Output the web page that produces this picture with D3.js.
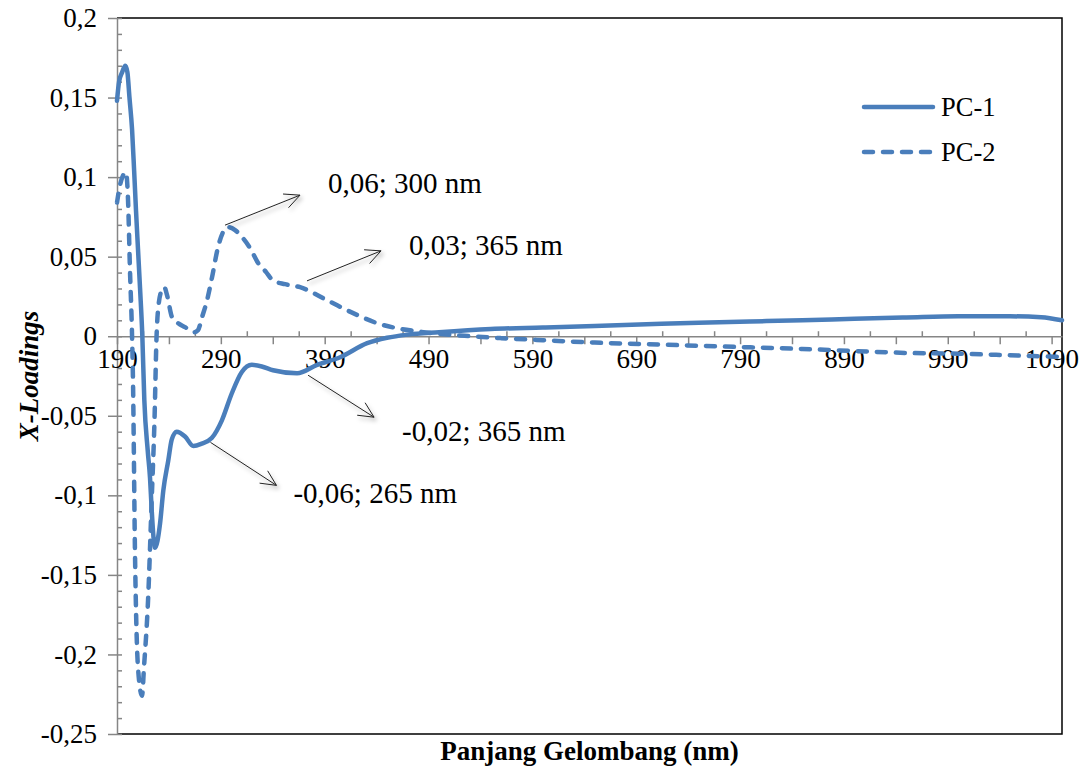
<!DOCTYPE html>
<html>
<head>
<meta charset="utf-8">
<script src="https://cdn.jsdelivr.net/npm/d3@7/dist/d3.min.js"></script>
<style>
  body { margin: 0; background: #fff; }
  svg text { font-family: "Liberation Serif", "Times New Roman", serif; fill: #000; }
</style>
</head>
<body>
<div id="chart"></div>
<script>
// PC-1 (solid) loadings
const pc1Wavelength = [190, 192, 195, 198, 200, 202, 204.5, 206.5, 208.3, 210.2, 212.2, 214.4, 216.3, 219.6, 221.8, 223.4, 226.6, 231.4, 234.6, 239.4, 242.7, 247.5, 255.5, 263.5, 271.6, 281.2, 290.9, 300.5, 310.2, 319.8, 329.4, 340.3, 363.4, 382.7, 404.9, 430.9, 450, 470, 500, 550, 600, 650, 700, 750, 800, 850, 900, 950, 1000, 1050, 1080, 1100];
const pc1Loading = [0.148, 0.160, 0.166, 0.170, 0.166, 0.150, 0.130, 0.104, 0.079, 0.055, 0.030, 0, -0.040, -0.072, -0.089, -0.109, -0.133, -0.118, -0.097, -0.078, -0.065, -0.060, -0.063, -0.069, -0.0675, -0.064, -0.053, -0.036, -0.0225, -0.018, -0.019, -0.0214, -0.0233, -0.018, -0.0132, -0.0044, -0.001, 0.001, 0.0025, 0.0045, 0.0055, 0.0065, 0.0075, 0.0085, 0.0093, 0.010, 0.011, 0.0118, 0.0125, 0.0125, 0.012, 0.010];

// PC-2 (dashed) loadings
const pc2Wavelength = [190, 192.9, 195.8, 198.7, 200.6, 202.5, 204.5, 205.4, 207.3, 210.2, 214.1, 216, 219.9, 223.4, 226.1, 228.1, 229.5, 233.1, 235.6, 238.2, 243, 248.8, 255.5, 264.2, 268, 271.9, 276.7, 281.5, 287.3, 292.1, 297, 303.7, 310.4, 318.2, 325.9, 333.6, 340.3, 351.9, 366.3, 392.4, 417.4, 440.5, 459.8, 480, 500, 530, 560, 600, 650, 700, 750, 800, 850, 900, 950, 1000, 1050, 1100];
const pc2Loading = [0.084, 0.095, 0.101, 0.103, 0.086, 0.0415, 0, -0.028, -0.135, -0.208, -0.226, -0.208, -0.166, -0.103, -0.053, 0, 0.0164, 0.029, 0.0308, 0.0258, 0.012, 0.0082, 0.0057, 0.0025, 0.0038, 0.012, 0.0226, 0.037, 0.056, 0.0654, 0.0686, 0.0667, 0.0623, 0.0553, 0.046, 0.0403, 0.035, 0.0327, 0.0308, 0.0226, 0.0145, 0.0082, 0.005, 0.003, 0.0015, 0, -0.0012, -0.0025, -0.004, -0.005, -0.006, -0.007, -0.008, -0.0093, -0.0105, -0.011, -0.012, -0.013];

const seriesNames = ["PC-1", "PC-2"];

const yTickValues = [0.2, 0.15, 0.1, 0.05, 0, -0.05, -0.1, -0.15, -0.2, -0.25];
const yTickLabels = ["0,2", "0,15", "0,1", "0,05", "0", "-0,05", "-0,1", "-0,15", "-0,2", "-0,25"];
const xTickValues = [190, 290, 390, 490, 590, 690, 790, 890, 990, 1090];
const xTickLabels = ["190", "290", "390", "490", "590", "690", "790", "890", "990", "1090"];

const noteLabels = ["0,06; 300 nm", "0,03; 365 nm", "-0,02; 365 nm", "-0,06; 265 nm"];
const noteWavelength = [294, 373, 374, 280];
const noteLoading = [0.0698, 0.0348, -0.0245, -0.0667];

const xTitle = "Panjang Gelombang (nm)";
const yTitle = "X-Loadings";

// ---- layout ----
const W = 1086, H = 769;
const margin = {top: 18, right: 24, bottom: 35, left: 117};
const width = W - margin.left - margin.right;
const height = H - margin.top - margin.bottom;
const blue = "#4a7ebb";
const axisGray = "#868686";
const serif = "Liberation Serif, Times New Roman, serif";

// arrow / label offsets (px) relative to the anchor point on the curve
const noteLayout = [
  {tip: [75, -30], text: [103, -32]},
  {tip: [74, -30], text: [102, -26]},
  {tip: [66, 42], text: [94, 66]},
  {tip: [66, 43], text: [83, 61]}
];

const x = d3.scaleLinear().domain([190, 1100]).range([0, width]);
const y = d3.scaleLinear().domain([-0.25, 0.2]).range([height, 0]);

const svg = d3.select("#chart").append("svg")
  .attr("width", W)
  .attr("height", H);

const defs = svg.append("defs");
const shadow = defs.append("filter").attr("id", "shadow")
  .attr("x", "-20%").attr("y", "-20%").attr("width", "140%").attr("height", "160%");
shadow.append("feDropShadow")
  .attr("dx", 2).attr("dy", 3).attr("stdDeviation", 2)
  .attr("flood-color", "#000").attr("flood-opacity", 0.35);

const g = svg.append("g")
  .attr("transform", "translate(" + margin.left + "," + margin.top + ")");

// plot border (top, right, bottom)
g.append("path")
  .attr("d", "M0,0H" + width + "V" + height + "H0")
  .attr("fill", "none")
  .attr("stroke", "#000")
  .attr("stroke-width", 1.5);

// y axis: major ticks outside, minor inside
const yMinor = d3.range(-25, 21).map(d => d / 100);
g.append("g")
  .attr("class", "y-minor")
  .call(d3.axisRight(y).tickValues(yMinor).tickSize(5).tickFormat(""))
  .call(a => a.select(".domain").remove());

g.append("g")
  .attr("class", "y-axis")
  .call(d3.axisLeft(y).tickValues(yTickValues).tickSize(9).tickSizeOuter(0)
    .tickFormat((d, i) => yTickLabels[i]))
  .call(a => a.selectAll("text").attr("x", -20).style("font-size", "27px").style("font-family", serif));

// x axis on the zero line
const xMinor = d3.range(215, 1100, 50);
const xMid = d3.range(240, 1100, 50).filter(v => (v - 190) % 100 !== 0);
g.append("g")
  .attr("class", "x-minor")
  .attr("transform", "translate(0," + y(0) + ")")
  .call(d3.axisTop(x).tickValues(xMinor).tickSize(5).tickFormat(""))
  .call(a => a.select(".domain").remove());

g.append("g")
  .attr("class", "x-mid")
  .attr("transform", "translate(0," + y(0) + ")")
  .call(d3.axisBottom(x).tickValues(xMid).tickSize(8).tickFormat(""))
  .call(a => a.select(".domain").remove());

g.append("g")
  .attr("class", "x-axis")
  .attr("transform", "translate(0," + y(0) + ")")
  .call(d3.axisBottom(x).tickValues(xTickValues).tickSize(8).tickSizeOuter(0)
    .tickFormat((d, i) => xTickLabels[i]))
  .call(a => a.selectAll("text").attr("y", 13).style("font-size", "27px").style("font-family", serif));

g.selectAll(".domain, .tick line").attr("stroke", axisGray).attr("stroke-width", 1.5);

// lines
const line = d3.line()
  .x(d => x(d[0]))
  .y(d => y(d[1]))
  .curve(d3.curveMonotoneX);

const pc1 = pc1Wavelength.map((w, i) => [w, pc1Loading[i]]);
const pc2 = pc2Wavelength.map((w, i) => [w, pc2Loading[i]]);

g.append("path")
  .datum(pc2)
  .attr("fill", "none")
  .attr("stroke", blue)
  .attr("stroke-width", 4.5)
  .attr("stroke-linecap", "round")
  .attr("stroke-dasharray", "9,10")
  .attr("d", line);

g.append("path")
  .datum(pc1)
  .attr("fill", "none")
  .attr("stroke", blue)
  .attr("stroke-width", 4.5)
  .attr("stroke-linecap", "round")
  .attr("stroke-linejoin", "round")
  .attr("d", line);

// annotations
noteLabels.forEach((label, i) => {
  const ax = x(noteWavelength[i]), ay = y(noteLoading[i]);
  const lay = noteLayout[i];
  const tx = ax + lay.tip[0], ty = ay + lay.tip[1];
  const ang = Math.atan2(ty - ay, tx - ax);
  const len = 17, spread = Math.PI / 7;
  const h1 = [tx - len * Math.cos(ang - spread), ty - len * Math.sin(ang - spread)];
  const h2 = [tx - len * Math.cos(ang + spread), ty - len * Math.sin(ang + spread)];
  g.append("path")
    .attr("d", "M" + ax + "," + ay + "L" + tx + "," + ty +
      "M" + h1[0] + "," + h1[1] + "L" + tx + "," + ty + "L" + h2[0] + "," + h2[1])
    .attr("fill", "none")
    .attr("stroke", "#222")
    .attr("stroke-width", 1)
    .attr("filter", "url(#shadow)");
  g.append("text")
    .attr("x", ax + lay.text[0])
    .attr("y", ay + lay.text[1])
    .style("font-size", "29px")
    .text(label);
});

// legend
const legend = svg.append("g").attr("transform", "translate(864,107)");
seriesNames.forEach((name, i) => {
  const row = legend.append("g").attr("transform", "translate(0," + (i * 45) + ")");
  row.append("line")
    .attr("x1", 0).attr("x2", 69)
    .attr("stroke", blue)
    .attr("stroke-width", 4.5)
    .attr("stroke-linecap", "round")
    .attr("stroke-dasharray", i === 1 ? "9,10" : null);
  row.append("text")
    .attr("x", 77)
    .attr("y", 9)
    .style("font-size", "26.5px")
    .text(name);
});

// axis titles
svg.append("text")
  .attr("x", margin.left + width / 2)
  .attr("y", 760)
  .attr("text-anchor", "middle")
  .style("font-size", "27px")
  .style("font-weight", "bold")
  .text(xTitle);

svg.append("text")
  .attr("transform", "translate(38," + (margin.top + height / 2) + ") rotate(-90)")
  .attr("text-anchor", "middle")
  .style("font-size", "27px")
  .style("font-weight", "bold")
  .style("font-style", "italic")
  .text(yTitle);
</script>
</body>
</html>
